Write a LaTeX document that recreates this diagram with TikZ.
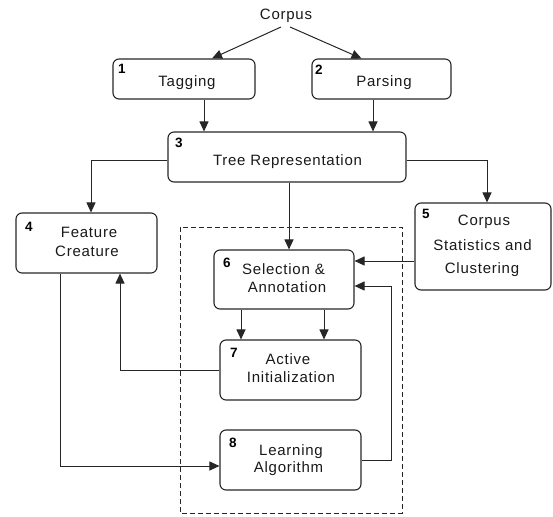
\documentclass[tikz,border=0pt]{standalone}
\usepackage{fontspec}
\setmainfont{Liberation Sans}[LetterSpace=5]
\usetikzlibrary{arrows.meta}
\begin{document}
\begin{tikzpicture}[x=1pt,y=-1pt,
  box/.style={draw=black!85, line width=1.1pt, rounded corners=6pt, inner sep=0pt},
  lbl/.style={font=\fontsize{15}{18}\selectfont, anchor=base, inner sep=0pt, text=black!90},
  num/.style={font=\fontsize{13.5}{14}\selectfont\bfseries, anchor=base west, inner sep=0pt},
  arr/.style={draw=black!85, line width=1pt, -{Triangle[length=10pt,width=9pt]}},
  ln/.style={draw=black!85, line width=1pt}]
\useasboundingbox (0,0) rectangle (553,516);

% dashed region
\draw[black!85, line width=1pt, dash pattern=on 5pt off 3pt] (180,227) rectangle (402,513);

% boxes
\node[box, minimum width=142pt, minimum height=40pt] (b1) at (184,79) {};
\node[box, minimum width=139pt, minimum height=40pt] (b2) at (381.5,79) {};
\node[box, minimum width=238pt, minimum height=50pt] (b3) at (287,157) {};
\node[box, minimum width=141pt, minimum height=60pt] (b4) at (86.5,243) {};
\node[box, minimum width=136pt, minimum height=87pt] (b5) at (483,246.5) {};
\node[box, minimum width=140pt, minimum height=59pt] (b6) at (284,279.5) {};
\node[box, minimum width=141pt, minimum height=60pt] (b7) at (290.5,370) {};
\node[box, minimum width=141pt, minimum height=60pt] (b8) at (290.5,460) {};

% texts
\node[lbl] (corpus) at (286,20) {Corpus};
\node[lbl] (t1) at (187,87) {Tagging};
\node[lbl] (t2) at (384,87) {Parsing};
\node[lbl] (t3) at (287.5,165) {Tree Representation};
\node[lbl] (t4a) at (89,237) {Feature};
\node[lbl] (t4b) at (87,256) {Creature};
\node[lbl] (t5a) at (484,225) {Corpus};
\node[lbl] (t5b) at (482.5,250) {Statistics and};
\node[lbl] (t5c) at (482,273) {Clustering};
\node[lbl] (t6a) at (283.5,274) {Selection \&};
\node[lbl] (t6b) at (287,292) {Annotation};
\node[lbl] (t7a) at (288,364) {Active};
\node[lbl] (t7b) at (291,382) {Initialization};
\node[lbl] (t8a) at (291,455) {Learning};
\node[lbl] (t8b) at (288.5,472) {Algorithm};

% numbers
\node[num] (n1) at (118,74) {1};
\node[num] (n2) at (315,75) {2};
\node[num] (n3) at (175,147) {3};
\node[num] (n4) at (25,231) {4};
\node[num] (n5) at (422,218) {5};
\node[num] (n6) at (223,267) {6};
\node[num] (n7) at (230,357) {7};
\node[num] (n8) at (229,447) {8};

% connectors
\coordinate (c1) at (281,27);
\coordinate (c2) at (290,27);
\draw[arr] (c1) -- ([xshift=28pt]b1.north);
\draw[arr] (c2) -- ([xshift=-20pt]b2.north);
\draw[arr] ([xshift=20pt]b1.south) -- ([xshift=20pt]b1.south |- b3.north);
\draw[arr] ([xshift=-8.5pt]b2.south) -- ([xshift=-8.5pt]b2.south |- b3.north);
\draw[arr] ([yshift=-3pt]b3.west) -| ([xshift=4.5pt]b4.north);
\draw[arr] ([yshift=-3pt]b3.east) -| ([xshift=4pt]b5.north);
\draw[arr] ([xshift=2pt]b3.south) -- ([xshift=5pt]b6.north);
\draw[arr] ([yshift=-14.5pt]b5.west) -- ([yshift=-14.5pt]b5.west -| b6.east);
\draw[arr] ([xshift=-43pt]b6.south) -- ([xshift=-43pt]b6.south |- b7.north);
\draw[arr] ([xshift=40pt]b6.south) -- ([xshift=40pt]b6.south |- b7.north);
\draw[arr] (b7.west) -| ([xshift=33.5pt]b4.south);
\draw[arr] ([xshift=-26.5pt]b4.south) |- ([yshift=-6pt]b8.west);
\draw[arr] (b8.east) -- ++(30,0) |- ([yshift=-6.5pt]b6.east);
\end{tikzpicture}
\end{document}
